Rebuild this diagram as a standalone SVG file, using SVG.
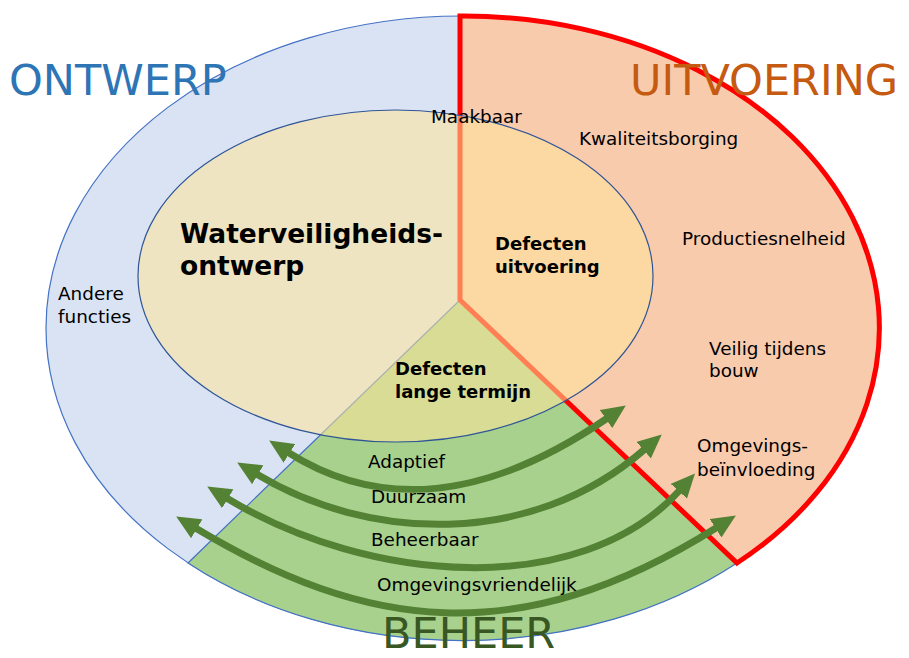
<svg xmlns="http://www.w3.org/2000/svg" width="909" height="658" viewBox="0 0 909 658">
  <defs>
    <style>
      .lbl { font-family: "DejaVu Sans", Verdana, sans-serif; font-size: 18.4px; fill: #000; }
      .bold { font-family: "DejaVu Sans", Verdana, sans-serif; font-weight: bold; fill: #000; }
      .title { font-family: "DejaVu Sans", Verdana, sans-serif; font-size: 43px; }
      .arc { fill: none; stroke: #548235; stroke-width: 7; marker-start: url(#ah); marker-end: url(#ah); }
    </style>
    <marker id="ah" viewBox="0 0 24 22" refX="1" refY="11" markerWidth="24" markerHeight="22" markerUnits="userSpaceOnUse" orient="auto-start-reverse">
      <path d="M0,0 L24,11 L0,22 Z" fill="#548235"/>
    </marker>
  </defs>
  <rect width="909" height="658" fill="#ffffff"/>

  <g id="ontwerp-region">
    <ellipse cx="462" cy="328" rx="416" ry="312" fill="#DAE3F3" stroke="#4472C4" stroke-width="1.2"/>
  </g>
  <g id="beheer-region">
    <path d="M460,300 L188,563 A416,312 0 0 0 737,563 Z" fill="#A9D18E" stroke="#4472C4" stroke-width="1.2"/>
  </g>
  <g id="uitvoering-region">
    <path d="M460,16 L460,300 L737,563 A416,312 0 0 0 460,16 Z" fill="#F8CBAD" stroke="#FF0000" stroke-width="5" stroke-linejoin="miter"/>
  </g>
  <g id="inner-ellipse">
    <ellipse cx="395.5" cy="276" rx="257.5" ry="166" fill="#FFE699" fill-opacity="0.55" stroke="#2F5597" stroke-width="1.2"/>
  </g>

  <g id="connectors">
    <path class="arc" d="M288.6,452.8 C384,513 492,497 606.8,418.5"/>
    <path class="arc" d="M256.9,474.3 C366,540 529,550 644.4,449.5"/>
    <path class="arc" d="M226.9,498.3 C369,584 580,600 679.5,490.5"/>
    <path class="arc" d="M195.9,528.3 C364,629 517,653 716.4,527.7"/>
  </g>

  <g id="titles">
    <text class="title" x="9" y="95" fill="#2E75B6">ONTWERP</text>
    <text class="title" x="630" y="95" fill="#C55A11" font-size="44">UITVOERING</text>
    <text class="title" x="382" y="648" fill="#385723" font-size="42">BEHEER</text>
  </g>

  <g id="center-labels">
    <text class="bold" x="180" y="243" font-size="26.5">Waterveiligheids-</text>
    <text class="bold" x="180" y="275" font-size="26.5">ontwerp</text>
    <text class="bold" x="495" y="250" font-size="18">Defecten</text>
    <text class="bold" x="495" y="273" font-size="18">uitvoering</text>
    <text class="bold" x="395" y="375" font-size="18">Defecten</text>
    <text class="bold" x="395" y="398" font-size="18">lange termijn</text>
  </g>

  <g id="uitvoering-labels">
    <text class="lbl" x="431" y="123">Maakbaar</text>
    <text class="lbl" x="579" y="145">Kwaliteitsborging</text>
    <text class="lbl" x="682" y="245">Productiesnelheid</text>
    <text class="lbl" x="709" y="355">Veilig tijdens</text>
    <text class="lbl" x="709" y="377">bouw</text>
    <text class="lbl" x="697" y="452">Omgevings-</text>
    <text class="lbl" x="697" y="476">beïnvloeding</text>
  </g>

  <g id="ontwerp-labels">
    <text class="lbl" x="58" y="300">Andere</text>
    <text class="lbl" x="58" y="323">functies</text>
  </g>

  <g id="beheer-labels">
    <text class="lbl" x="368" y="468">Adaptief</text>
    <text class="lbl" x="371" y="503">Duurzaam</text>
    <text class="lbl" x="371" y="546">Beheerbaar</text>
    <text class="lbl" x="377" y="591">Omgevingsvriendelijk</text>
  </g>
</svg>
